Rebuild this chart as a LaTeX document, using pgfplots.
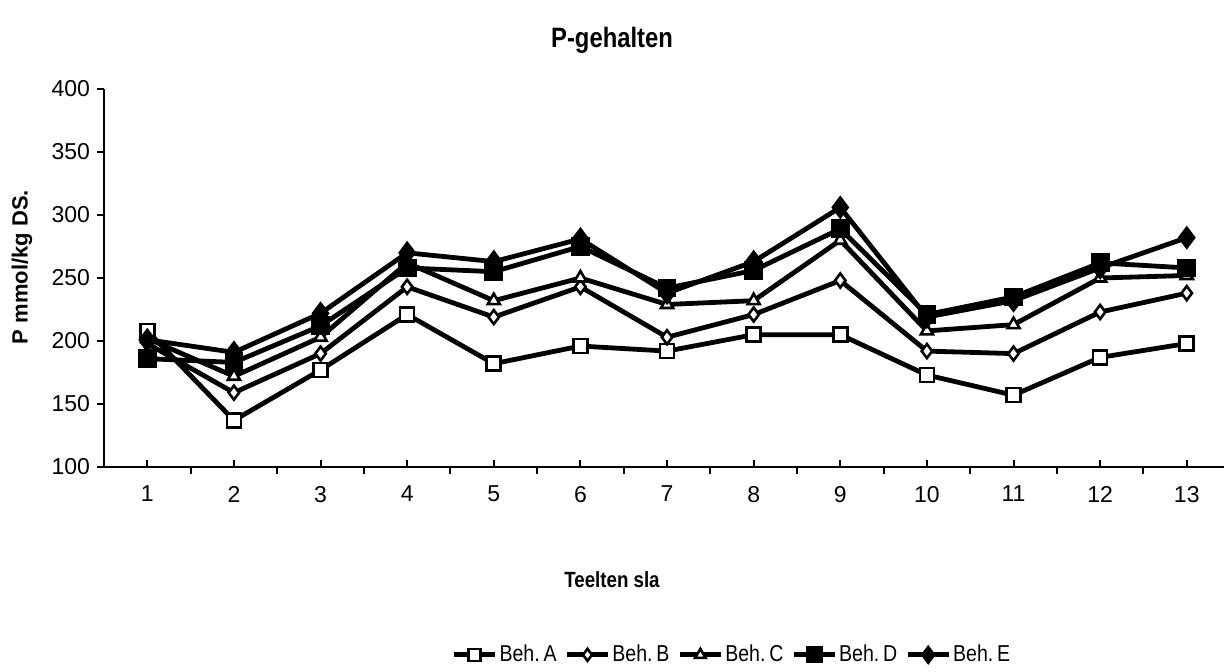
\documentclass[border=0pt]{standalone}
\usepackage{pgfplots}
\pgfplotsset{compat=1.18}
\usepackage{fontspec}
\setmainfont{Liberation Sans}
\newfontfamily\narrowfont[FakeStretch=0.85]{Liberation Sans}

\pgfplotstableread{
x A B C D E
1 208 198 202 186 201
2 137 159 172 183 191
3 177 190 203 212 222
4 221 243 262 258 270
5 182 219 232 255 263
6 196 243 250 275 281
7 192 203 229 242 238
8 205 221 232 256 263
9 205 248 280 289 306
10 173 192 208 221 219
11 157 190 213 235 232
12 187 223 250 262 258
13 198 238 252 258 282
}\datatable

\begin{document}
\begin{tikzpicture}
\begin{axis}[
  scale only axis, width=560pt, height=189pt,
  at={(0pt,0pt)}, anchor=south west,
  xmin=0.5, xmax=13.43, ymin=100, ymax=400,
  axis x line*=bottom, axis y line*=left,
  axis line style={-, line width=1.1pt},
  xtick={1,...,13}, ytick={100,150,...,400},
  xtick align=inside, ytick align=outside,
  extra x ticks={1.5,2.5,...,12.5}, extra x tick labels={},
  extra x tick style={xtick align=outside},
  major tick length=3.5pt,
  tick style={black, line width=1pt},
  ticklabel style={font=\fontsize{11.5}{13}\selectfont},
  /pgf/number format/assume math mode=true,
  xticklabel style={yshift=-6pt},
  clip=false,
  every axis plot/.append style={black, line width=2.4pt, mark size=3.5pt},
  legend style={at={(0.5607,-0.497)}, anchor=center, draw=none, fill=none,
    legend columns=5, font=\narrowfont\fontsize{11.5}{12}\selectfont,
    nodes={inner xsep=1pt}},
  legend image code/.code={\draw[mark repeat=2,mark phase=2, mark size=3pt] plot coordinates {(0cm,0cm) (0.36cm,0cm) (0.72cm,0cm)};},
]
\addplot[mark=square*, mark options={fill=white, line width=1.3pt}] table[x=x,y=A]{\datatable};
\addlegendentry{Beh.\,A\kern3pt}
\addplot[mark=diamond*, mark options={fill=white, line width=1.3pt}] table[x=x,y=B]{\datatable};
\addlegendentry{Beh.\,B\kern3pt}
\addplot[mark=triangle*, mark options={fill=white, line width=1.3pt}] table[x=x,y=C]{\datatable};
\addlegendentry{Beh.\,C\kern3pt}
\addplot[mark=square*, mark options={fill=black}] table[x=x,y=D]{\datatable};
\addlegendentry{Beh.\,D\kern3pt}
\addplot[mark=diamond*, mark options={fill=black}, mark size=4pt] table[x=x,y=E]{\datatable};
\addlegendentry{Beh.\,E}
\end{axis}
\node[font=\narrowfont\bfseries\fontsize{14}{16}\selectfont] at (254pt,213.5pt) {P-gehalten};
\node[font=\bfseries\fontsize{11}{12}\selectfont, rotate=90] at (-41pt,100pt) {P mmol/kg DS.};
\node[font=\narrowfont\bfseries\fontsize{11}{12}\selectfont] at (254pt,-56.5pt) {Teelten sla};
\pgfresetboundingbox
\path (-52pt,-102pt) rectangle (560pt,233.5pt);
\end{tikzpicture}
\end{document}
